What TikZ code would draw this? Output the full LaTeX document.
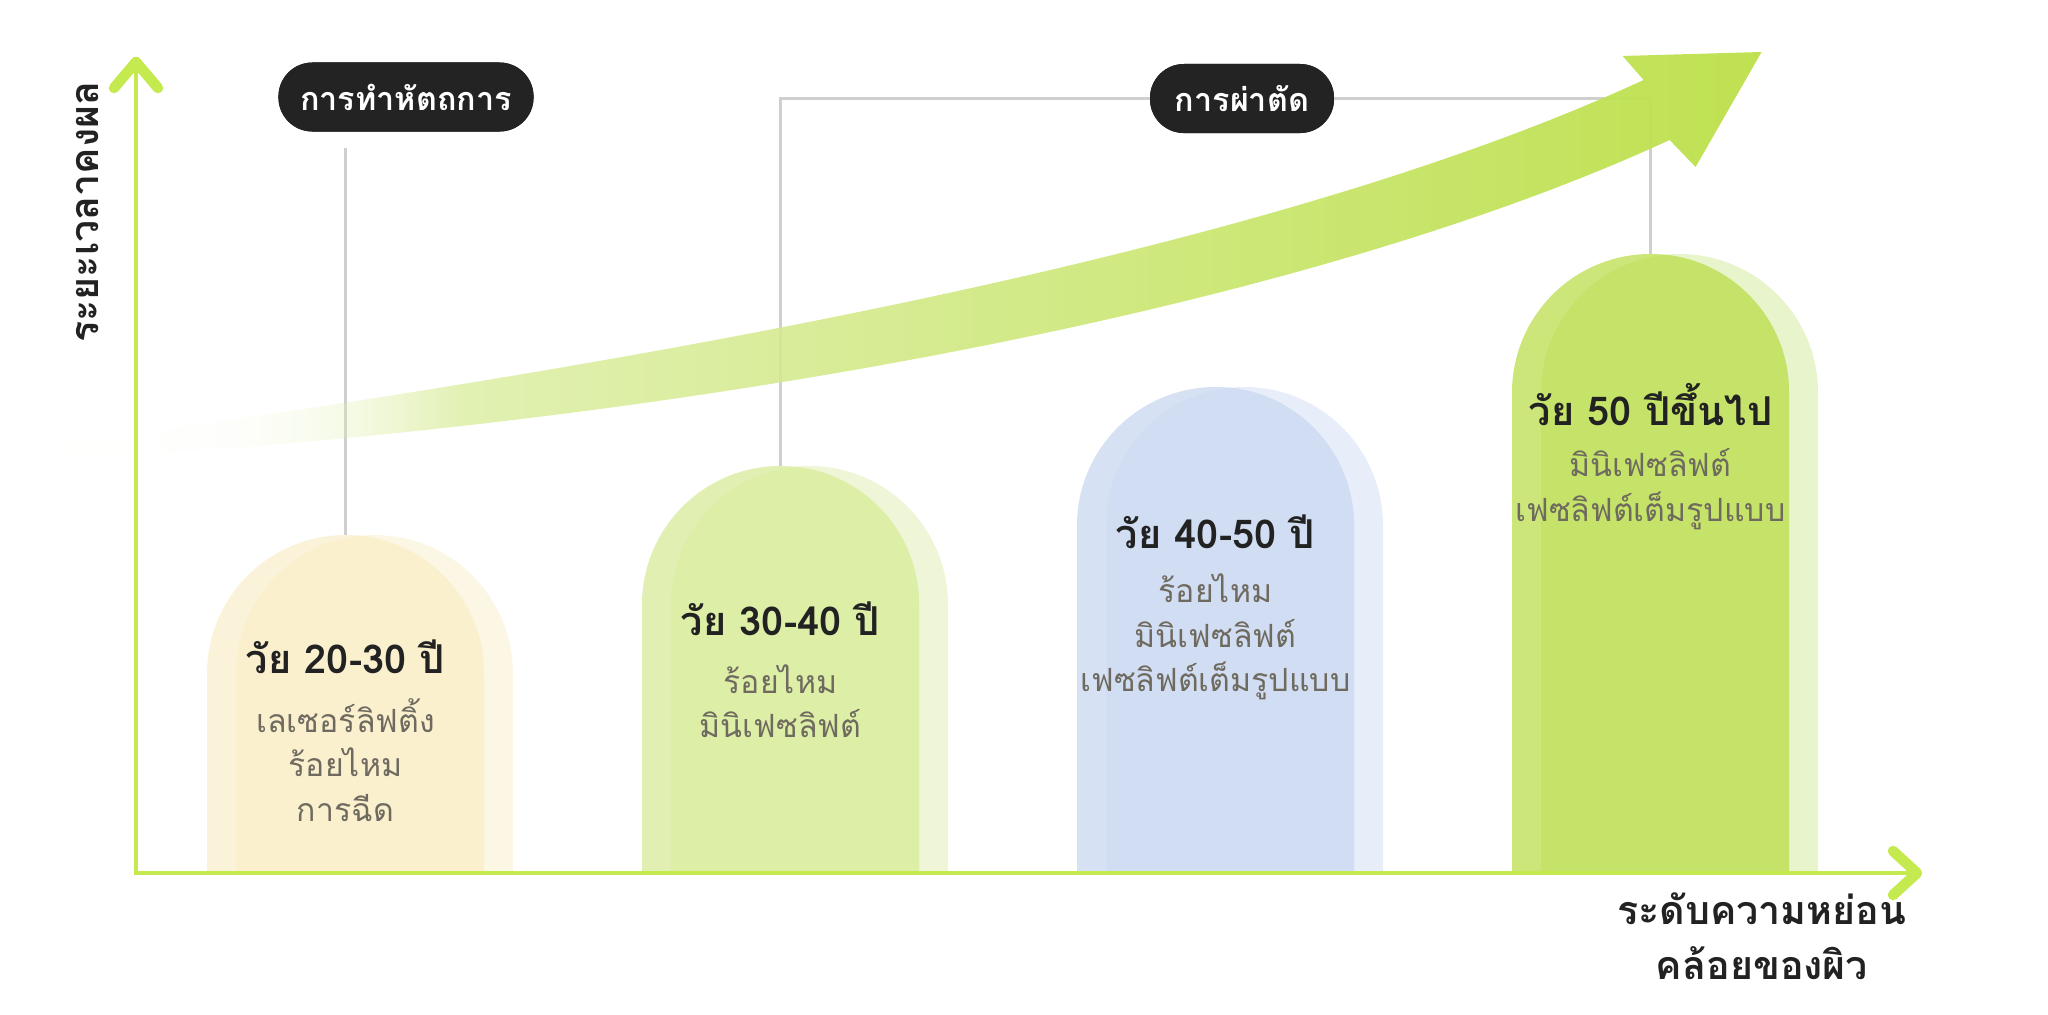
\documentclass[tikz,border=0pt]{standalone}
\usepackage{fontspec}
\newfontfamily\thaifont[Script=Thai]{Loma}
\usetikzlibrary{calc}
\usetikzlibrary{fadings}

\definecolor{axisgreen}{HTML}{C4EA50}
\definecolor{pillblack}{HTML}{232323}
\definecolor{linegray}{HTML}{CFCFCF}
\definecolor{titleink}{HTML}{222222}
\definecolor{itemink}{HTML}{6F6A5F}
\definecolor{bandlight}{HTML}{E6F2C0}
\definecolor{bandmid}{HTML}{DCEDA6}
\definecolor{banddark}{HTML}{BCE04A}
% bar colours: middle, left strip, right strip
\definecolor{creamM}{HTML}{FAF0CE}
\definecolor{creamL}{HTML}{FBF3D9}
\definecolor{creamR}{HTML}{FCF7E5}
\definecolor{limeM}{HTML}{DDEEA7}
\definecolor{limeL}{HTML}{E1F0B2}
\definecolor{limeR}{HTML}{EEF6D7}
\definecolor{blueM}{HTML}{D1DDF2}
\definecolor{blueL}{HTML}{D6E1F3}
\definecolor{blueR}{HTML}{E7EDF9}
\definecolor{greenM}{HTML}{C5E368}
\definecolor{greenL}{HTML}{CCE67A}
\definecolor{greenR}{HTML}{E8F4CB}

% the fitted part of this fading runs from 21.55bp to 78.45bp
\pgfdeclarehorizontalshading{bandfadeshade}{100bp}{color(0bp)=(black); color(21bp)=(black); color(28bp)=(black!98); color(30.6bp)=(black!93); color(33.6bp)=(black!70); color(37bp)=(black!15); color(60bp)=(black!6); color(100bp)=(white)}
\pgfdeclarefading{bandfade}{\pgfuseshading{bandfadeshade}}

\newcommand{\tightlines}{\lineskiplimit=-6pt\relax}

% one bar: left x, top y, middle, left, right colour
\newcommand{\tomb}[5]{%
  \fill[#5] ({#1+29},873) -- ({#1+29},{#2+138.5}) arc[start angle=180, end angle=360, radius=138.5] -- ({#1+306},873) -- cycle;
  \fill[#4] (#1,873) -- (#1,{#2+138.5}) arc[start angle=180, end angle=360, radius=138.5] -- ({#1+277},873) -- cycle;
  \begin{scope}
    \clip (#1,873) -- (#1,{#2+138.5}) arc[start angle=180, end angle=360, radius=138.5] -- ({#1+277},873) -- cycle;
    \fill[#3] ({#1+29},873) -- ({#1+29},{#2+138.5}) arc[start angle=180, end angle=360, radius=138.5] -- ({#1+306},873) -- cycle;
  \end{scope}}

\tikzset{
  pill/.style={fill=pillblack, text=white, rounded corners=0.34cm, minimum height=0.69cm, inner sep=0pt,
    font=\thaifont\bfseries\fontsize{9.2}{11}\selectfont},
  agetitle/.style={text=titleink, inner sep=0pt, font=\thaifont\bfseries\fontsize{11.3}{13}\selectfont},
  agelist/.style={text=itemink, inner sep=0pt, align=center,
    font=\thaifont\fontsize{9.1}{12.6}\selectfont\tightlines},
  axislabel/.style={text=titleink, inner sep=0pt, align=center,
    font=\thaifont\bfseries\fontsize{11.2}{15.8}\selectfont\tightlines},
  connector/.style={draw=linegray, line width=0.7pt},
  axisline/.style={draw=axisgreen, line width=1.1pt},
  axistip/.style={draw=axisgreen, line width=3pt, line cap=round, line join=round}
}

\begin{document}
\begin{tikzpicture}[x=0.01cm, y=-0.01cm]
  \useasboundingbox (0,0) rectangle (2048,1014);

  % bars
  \tomb{207}{535}{creamM}{creamL}{creamR}
  \tomb{642}{466}{limeM}{limeL}{limeR}
  \tomb{1077}{387}{blueM}{blueL}{blueR}
  \tomb{1512}{254}{greenM}{greenL}{greenR}

  \coordinate (top1) at (345.5,535);
  \coordinate (top2) at (780.5,466);
  \coordinate (top4) at (1650.5,254);
  \coordinate (p1foot) at (345.5,148);

  \node[pill, minimum width=2.55cm] (pill1) at (406,97) {การทำหัตถการ};
  \node[pill, minimum width=1.84cm] (pill2) at (1242,98.5) {การผ่าตัด};

  \draw[connector] (p1foot) -- (top1);
  \draw[connector] (top2) |- (pill2);
  \draw[connector] (pill2) -| (top4);

  % rising arrow
  \shade[left color=bandlight, middle color=bandmid, right color=banddark, path fading=bandfade]
    (59,444) .. controls (697,357) and (1287,245) .. (1644,80) -- (1623,56) -- (1762,52) -- (1696,167)
    -- (1670,140) .. controls (1313,305) and (703,423) .. (61,460) -- cycle;

  \node[pill, minimum width=2.55cm] at (pill1) {การทำหัตถการ};
  \node[pill, minimum width=1.84cm] at (pill2) {การผ่าตัด};

  \node[agetitle] (t1) at (345.5,657) {วัย 20-30 ปี};
  \node[agelist] (l1) at (345.5,760) {เลเซอร์ลิฟติ้ง\\ร้อยไหม\\การฉีด};
  \node[agetitle] (t2) at (780.5,619) {วัย 30-40 ปี};
  \node[agelist] (l2) at (780.5,701) {ร้อยไหม\\มินิเฟซลิฟต์};
  \node[agetitle] (t3) at (1215.5,532) {วัย 40-50 ปี};
  \node[agelist] (l3) at (1215.5,637) {ร้อยไหม\\มินิเฟซลิฟต์\\เฟซลิฟต์เต็มรูปแบบ};
  \node[agetitle] (t4) at (1650.5,405) {วัย 50 ปีขึ้นไป};
  \node[agelist] (l4) at (1650.5,489) {มินิเฟซลิฟต์\\เฟซลิฟต์เต็มรูปแบบ};

  % axes
  \coordinate (origin) at (136,873);
  \coordinate (ytop) at (136,62);
  \coordinate (xend) at (1917,873);
  \draw[axisline] (xend) -- (origin) -- (ytop);
  \draw[axistip] ($(ytop)+(-22,26)$) -- (ytop) -- ($(ytop)+(22,26)$);
  \draw[axistip] ($(xend)+(-24,-22)$) -- (xend) -- ($(xend)+(-24,22)$);

  \node[axislabel, rotate=90] (ylab) at (88,212) {ระยะเวลาคงผล};
  \node[axislabel] (xlab) at (1762,936) {ระดับความหย่อน\\คล้อยของผิว};
\end{tikzpicture}
\end{document}
